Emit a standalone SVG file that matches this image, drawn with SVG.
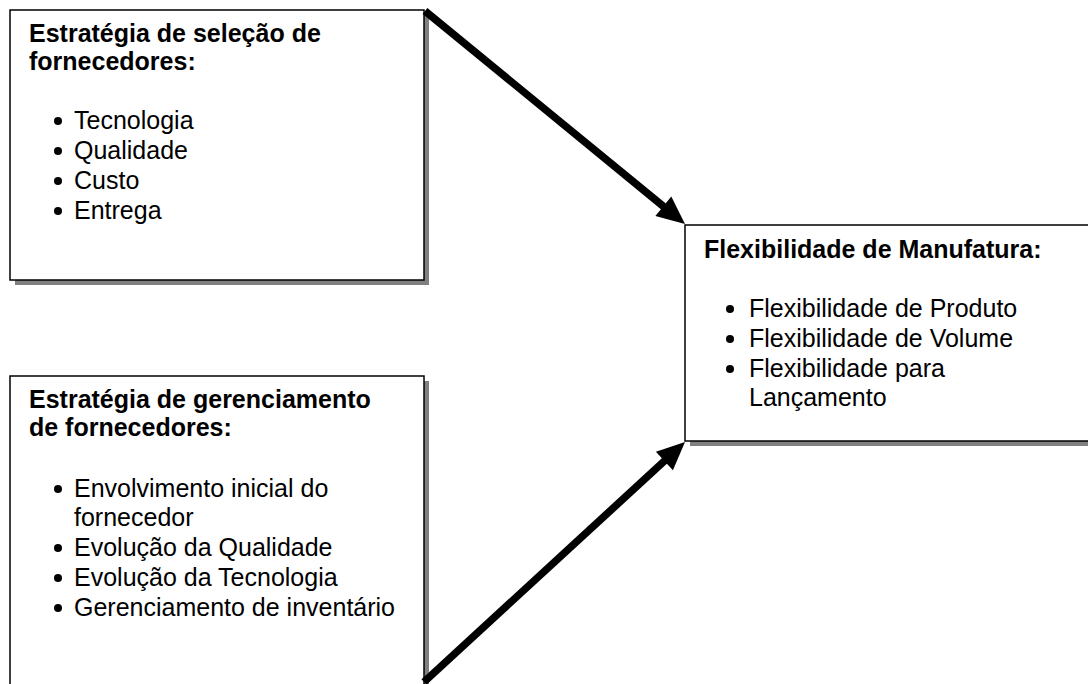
<svg xmlns="http://www.w3.org/2000/svg" width="1088" height="684" viewBox="0 0 1088 684">
  <style>
    .shadow { fill: #808080; }
    .box { fill: #ffffff; stroke: #000000; stroke-width: 1.5; }
    .title { font-family: "Liberation Sans", Arial, sans-serif; font-size: 25px; font-weight: bold; fill: #000; }
    .item { font-family: "Liberation Sans", Arial, sans-serif; font-size: 25px; fill: #000; }
    .dot { fill: #000; }
    .conn { stroke: #000; stroke-width: 7.5; fill: none; stroke-linecap: butt; }
    .head { fill: #000; }
  </style>
  <rect width="1088" height="684" fill="#ffffff"/>

  <g id="node-selecao">
    <rect class="shadow" x="15" y="15" width="414" height="270"/>
    <rect class="box" x="10" y="10" width="414" height="270"/>
    <text class="title" x="29" y="42">Estratégia de seleção de</text>
    <text class="title" x="29" y="70">fornecedores:</text>
    <circle class="dot" cx="58" cy="121" r="4"/>
    <text class="item" x="74" y="129">Tecnologia</text>
    <circle class="dot" cx="58" cy="151" r="4"/>
    <text class="item" x="74" y="159">Qualidade</text>
    <circle class="dot" cx="58" cy="181" r="4"/>
    <text class="item" x="74" y="189">Custo</text>
    <circle class="dot" cx="58" cy="211" r="4"/>
    <text class="item" x="74" y="219">Entrega</text>
  </g>

  <g id="node-gerenciamento">
    <rect class="shadow" x="15" y="381" width="414" height="320"/>
    <rect class="box" x="10" y="376" width="414" height="320"/>
    <text class="title" x="29" y="408">Estratégia de gerenciamento</text>
    <text class="title" x="29" y="436">de fornecedores:</text>
    <circle class="dot" cx="58" cy="489" r="4"/>
    <text class="item" x="74" y="497">Envolvimento inicial do</text>
    <text class="item" x="74" y="526">fornecedor</text>
    <circle class="dot" cx="58" cy="548" r="4"/>
    <text class="item" x="74" y="556">Evolução da Qualidade</text>
    <circle class="dot" cx="58" cy="578" r="4"/>
    <text class="item" x="74" y="586">Evolução da Tecnologia</text>
    <circle class="dot" cx="58" cy="608" r="4"/>
    <text class="item" x="74" y="616">Gerenciamento de inventário</text>
  </g>

  <g id="node-flexibilidade">
    <rect class="shadow" x="690" y="230" width="420" height="216"/>
    <rect class="box" x="685" y="225" width="420" height="216"/>
    <text class="title" x="704" y="258">Flexibilidade de Manufatura:</text>
    <circle class="dot" cx="730" cy="309" r="4"/>
    <text class="item" x="749" y="317">Flexibilidade de Produto</text>
    <circle class="dot" cx="730" cy="339" r="4"/>
    <text class="item" x="749" y="347">Flexibilidade de Volume</text>
    <circle class="dot" cx="730" cy="369" r="4"/>
    <text class="item" x="749" y="377">Flexibilidade para</text>
    <text class="item" x="749" y="406">Lançamento</text>
  </g>

  <g id="connectors">
    <line class="conn" x1="425" y1="11" x2="666" y2="208.5"/>
    <polygon class="head" points="685,224 655.4,215.9 671.3,196.6"/>
    <line class="conn" x1="424" y1="682" x2="666" y2="459.5"/>
    <polygon class="head" points="685,442 672.9,470.2 655.9,451.8"/>
  </g>
</svg>
